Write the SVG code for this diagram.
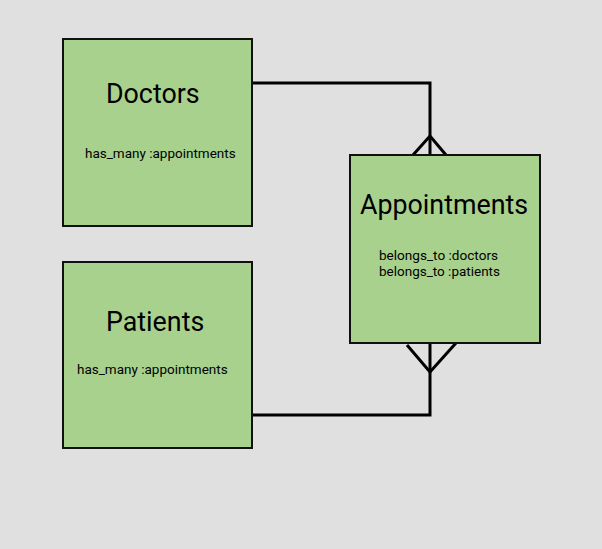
<svg xmlns="http://www.w3.org/2000/svg" width="602" height="549" viewBox="0 0 602 549">
<style>
.box{fill:#a9d18e;stroke:#111;stroke-width:2}
.title{font-family:Roboto,"Liberation Sans",sans-serif;font-size:26.8px;fill:#000}
.attr{font-family:Roboto,"Liberation Sans",sans-serif;font-size:13.5px;fill:#000}
.attr2{font-family:Roboto,"Liberation Sans",sans-serif;font-size:13px;fill:#000}
.conn{fill:none;stroke:#000;stroke-width:3}
</style>
<rect width="602" height="549" fill="#e0e0e0"/>
<g id="connectors">
<polyline class="conn" points="252,83 430,83 430,155"/>
<polyline class="conn" points="413,155 430,136 446,155"/>
<polyline class="conn" points="252,415 430,415 430,343"/>
<polyline class="conn" points="407,345 430,372 456,343"/>
</g>
<g id="doctors">
<rect class="box" x="63" y="39" width="189" height="187"/>
<text class="title" x="106" y="103">Doctors</text>
<text class="attr" x="85" y="158">has_many :appointments</text>
</g>
<g id="patients">
<rect class="box" x="63" y="262" width="189" height="186"/>
<text class="title" x="106" y="331">Patients</text>
<text class="attr" x="77" y="374">has_many :appointments</text>
</g>
<g id="appointments">
<rect class="box" x="350" y="155" width="190" height="188"/>
<text class="title" x="360" y="214">Appointments</text>
<text class="attr2" x="379" y="260" textLength="119" lengthAdjust="spacingAndGlyphs">belongs_to :doctors</text>
<text class="attr2" x="379" y="275.5" textLength="121" lengthAdjust="spacingAndGlyphs">belongs_to :patients</text>
</g>
</svg>
